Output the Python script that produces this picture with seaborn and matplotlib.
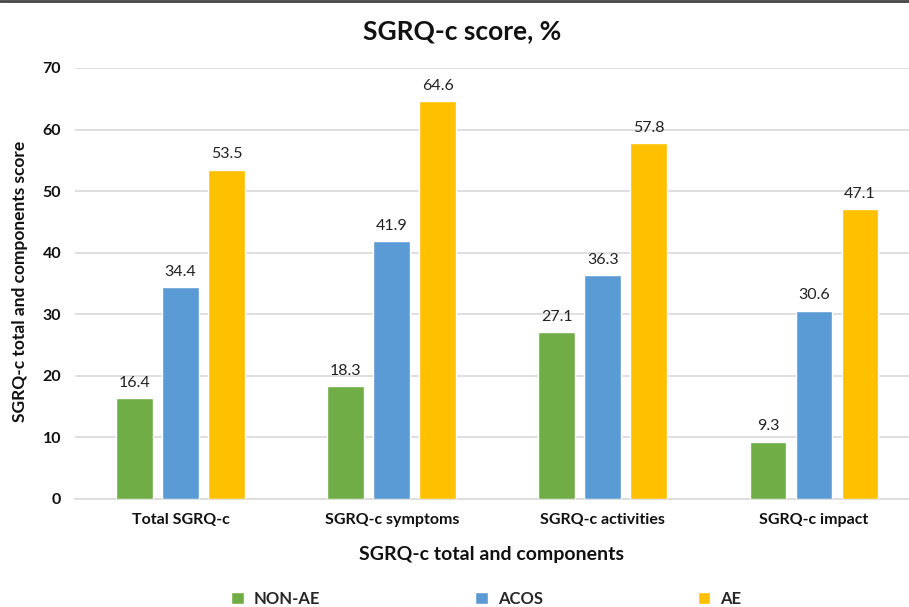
import matplotlib
matplotlib.use("Agg")
import matplotlib.pyplot as plt
import seaborn as sns
import pandas as pd
from matplotlib.lines import Line2D

categories = ["Total SGRQ-c", "SGRQ-c symptoms", "SGRQ-c activities", "SGRQ-c impact"]
groups = ["NON-AE", "ACOS", "AE"]
non_ae = [16.4, 18.3, 27.1, 9.3]
acos = [34.4, 41.9, 36.3, 30.6]
ae = [53.5, 64.6, 57.8, 47.1]
y_ticks = [0, 10, 20, 30, 40, 50, 60, 70]
colors = ["#70AD47", "#5B9BD5", "#FFC000"]

rows = []
for g, vals in zip(groups, [non_ae, acos, ae]):
    for c, v in zip(categories, vals):
        rows.append({"category": c, "group": g, "score": v})
df = pd.DataFrame(rows)

sns.set_theme(style="white")
plt.rcParams["font.family"] = ["Lato", "DejaVu Sans"]

fig = plt.figure(figsize=(9.09, 6.07), dpi=100)
ax = fig.add_axes([0.0825, 0.178, 0.9175, 0.71])

sns.barplot(data=df, x="category", y="score", hue="group", order=categories,
            hue_order=groups, palette=colors, width=0.654, gap=0.2,
            saturation=1, ax=ax, legend=True, zorder=3)

for cont in ax.containers:
    ax.bar_label(cont, fmt="%.1f", padding=6, fontsize=11.5, color="#222222")

ax.set_ylim(0, 70)
ax.set_yticks(y_ticks)
ax.set_xlim(-0.5, 3.45)
ax.yaxis.grid(True, color="#d9d9d9", linewidth=1.2, zorder=0)
ax.set_axisbelow(True)
for s in ["top", "right", "left"]:
    ax.spines[s].set_visible(False)
ax.spines["bottom"].set_color("#d9d9d9")
ax.spines["bottom"].set_linewidth(1.2)
ax.tick_params(axis="both", length=0, labelsize=11.5, pad=10)
for lbl in ax.get_xticklabels() + ax.get_yticklabels():
    lbl.set_fontweight("bold")
    lbl.set_color("#111111")

ax.set_xlabel("SGRQ-c total and components", fontsize=14, fontweight="bold",
              labelpad=14, color="#111111")
ax.set_ylabel("")
fig.text(0.022, 0.537, "SGRQ-c total and components score", rotation=90,
         ha="center", va="center", fontsize=12.5, fontweight="bold",
         color="#111111")
fig.text(0.508, 0.948, "SGRQ-c score, %", ha="center", va="center",
         fontsize=19, fontweight="bold", color="#111111")

handles, labels = ax.get_legend_handles_labels()
ax.get_legend().remove()
fig.legend(handles, labels, loc="center", bbox_to_anchor=(0.535, 0.013),
           ncol=3, frameon=False, handlelength=0.75, handleheight=0.75,
           columnspacing=9.3, handletextpad=0.6,
           prop={"weight": "bold", "size": 12})

fig.add_artist(Line2D([0, 1], [0.998, 0.998], transform=fig.transFigure,
                      color="#444444", linewidth=2))

fig.savefig("out.png", dpi=100)
